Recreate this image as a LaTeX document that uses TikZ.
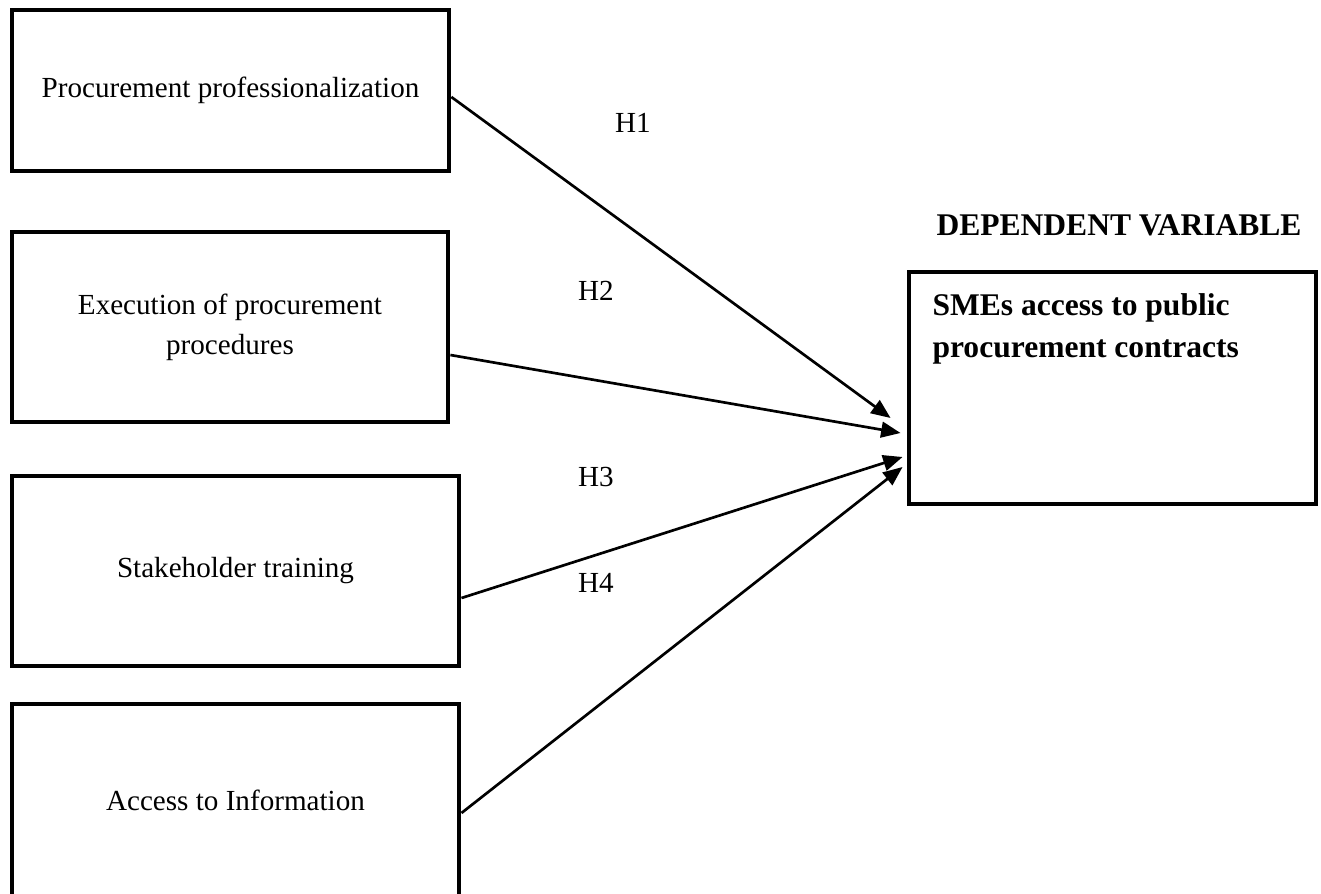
\documentclass[tikz,border=0pt]{standalone}
\usepackage{fontspec}
\setmainfont{Liberation Serif}
\usetikzlibrary{arrows.meta,calc}
\begin{document}
\begin{tikzpicture}[x=0.412pt, y=-0.412pt,
    box/.style={draw, line width=2pt, inner sep=0pt, align=center,
        font=\fontsize{12}{16.5}\selectfont},
    hyp/.style={font=\fontsize{12}{14}\selectfont},
    link/.style={line width=1.1pt, -{Triangle[length=8pt, width=6.5pt]}}]
    \useasboundingbox (0,0) rectangle (1321,894);
    \clip (0,0) rectangle (1321,894);

    \node[box, minimum width=180pt, minimum height=66.3pt] (pp) at (230.5,90.5)
        {Procurement professionalization};
    \node[box, minimum width=179.6pt, minimum height=78.3pt] (ep) at (230,327)
        {Execution of procurement\\procedures};
    \node[box, minimum width=184.2pt, minimum height=78.3pt] (st) at (235.5,571)
        {Stakeholder training};
    \node[box, minimum width=184.2pt, minimum height=79.1pt] (ai) at (235.5,800)
        {Access to Information};

    \node[font=\fontsize{13}{16}\selectfont\bfseries] (dvlabel) at (1119,225)
        {DEPENDENT VARIABLE};
    \node[draw, line width=2pt, minimum width=167.7pt, minimum height=95.6pt] (dv) at (1112.5,388) {};
    \node[anchor=north west, align=left, inner sep=0pt,
        font=\fontsize{13}{17.3}\selectfont\bfseries] (smes) at (932,293)
        {SMEs access to public\\procurement contracts};

    \coordinate (t1) at ($(dv.west)+(-16,30)$);
    \coordinate (t2) at ($(dv.west)+(-6,45)$);
    \coordinate (t3) at ($(dv.west)+(-4,69)$);
    \coordinate (t4) at ($(dv.west)+(-4,79)$);

    \draw[link] ($(pp.east)+(0,6.5)$) -- (t1);
    \draw[link] ($(ep.east)+(0,28)$) -- (t2);
    \draw[link] ($(st.east)+(0,27)$) -- (t3);
    \draw[link] ($(ai.east)+(0,13)$) -- (t4);

    \foreach \i/\x/\y in {1/633/123,2/596/291,3/596/477,4/596/583}
        {\node[hyp] (h\i) at (\x,\y) {H\i};}
\end{tikzpicture}
\end{document}
